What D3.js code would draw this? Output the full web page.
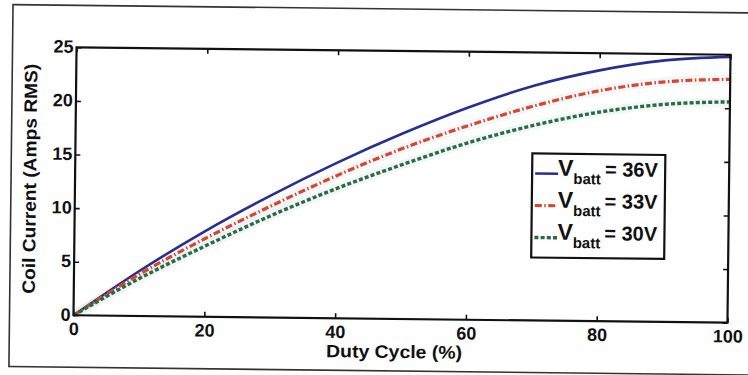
<!DOCTYPE html>
<html>
<head>
<meta charset="utf-8">
<script src="https://cdn.jsdelivr.net/npm/d3@7"></script>
<style>
  html, body { margin: 0; padding: 0; background: #fff; }
  svg { display: block; }
  text { font-family: "Liberation Sans", Arial, Helvetica, sans-serif; font-weight: bold; fill: #111; }
</style>
</head>
<body>
<svg id="chart" width="748" height="375"></svg>
<script>
// Duty cycle sweep (%) and the measured RMS coil current (A) for three battery voltages
const dutyCycle  = [0, 10, 20, 30, 40, 50, 60, 70, 80, 90, 100];
const current36V = [0, 4.2, 8.0, 11.4, 14.5, 17.3, 19.8, 21.9, 23.4, 24.4, 24.8];
const current33V = [0, 3.9, 7.3, 10.4, 13.3, 15.9, 18.1, 20.0, 21.5, 22.4, 22.7];
const current30V = [0, 3.5, 6.6, 9.5, 12.1, 14.4, 16.5, 18.2, 19.5, 20.3, 20.6];

const xTicks = [0, 20, 40, 60, 80, 100];
const yTicks = [0, 5, 10, 15, 20, 25];

const seriesNames = ["36V", "33V", "30V"];

const svg = d3.select("#chart");

// The printed figure sits slightly skewed on the page
const page = svg.append("g").attr("transform", "rotate(0.65, 402, 185)");

// Outer frame around the figure
page.append("rect")
  .attr("x", 11).attr("y", 9).attr("width", 760).attr("height", 362)
  .attr("fill", "none").attr("stroke", "#333").attr("stroke-width", 1.6);

const plotL = 75, plotR = 729, plotT = 51, plotB = 319;

const x = d3.scaleLinear().domain([0, 100]).range([plotL, plotR]);
const y = d3.scaleLinear().domain([0, 25]).range([plotB, plotT]);

const tickStyle = g => {
  g.select(".domain").remove();
  g.selectAll(".tick line").attr("stroke", "#111").attr("stroke-width", 1.6);
  g.selectAll(".tick text").attr("font-size", 18).attr("fill", "#111")
    .attr("font-family", "Liberation Sans, Arial, sans-serif").attr("font-weight", "bold");
};

page.append("g").attr("transform", `translate(0,${plotB})`)
  .call(d3.axisBottom(x).tickValues(xTicks).tickSize(-5).tickPadding(7))
  .call(tickStyle);
page.append("g").attr("transform", `translate(0,${plotT})`)
  .call(d3.axisTop(x).tickValues(xTicks).tickSize(-5).tickFormat(""))
  .call(tickStyle);
page.append("g").attr("transform", `translate(${plotL},0)`)
  .call(d3.axisLeft(y).tickValues(yTicks).tickSize(-5).tickPadding(3))
  .call(tickStyle)
  .call(g => g.selectAll(".tick text").attr("dy", "0.28em"));
page.append("g").attr("transform", `translate(${plotR},0)`)
  .call(d3.axisRight(y).tickValues(yTicks).tickSize(-5).tickFormat(""))
  .call(tickStyle);

// Curves
const line = d3.line().x(d => x(d[0])).y(d => y(d[1])).curve(d3.curveMonotoneX);
const toPts = vals => dutyCycle.map((d, i) => [d, vals[i]]);

const series = [
  { vals: current36V, color: "#27308f", width: 2.6, dash: null },
  { vals: current33V, color: "#d8462c", width: 3.2, dash: "7,2.5,1.5,2.5" },
  { vals: current30V, color: "#2b6b3c", width: 3.4, dash: "4,2.2" }
];

// faint printing haze around the dashed traces
series.slice(1).forEach(s => {
  page.append("path").attr("d", line(toPts(s.vals)))
    .attr("fill", "none").attr("stroke", "#d3e6f1").attr("stroke-width", 9)
    .attr("stroke-opacity", 0.35);
});

series.forEach(s => {
  page.append("path").attr("d", line(toPts(s.vals)))
    .attr("fill", "none").attr("stroke", s.color).attr("stroke-width", s.width)
    .attr("stroke-dasharray", s.dash);
});

// Axes box
page.append("rect")
  .attr("x", plotL).attr("y", plotT).attr("width", plotR - plotL).attr("height", plotB - plotT)
  .attr("fill", "none").attr("stroke", "#111").attr("stroke-width", 2.2);

// Axis titles
page.append("text").attr("x", 396).attr("y", 358).attr("text-anchor", "middle")
  .attr("font-size", 18).attr("textLength", 136).attr("lengthAdjust", "spacingAndGlyphs")
  .text("Duty Cycle (%)");
page.append("text").attr("transform", "translate(36,183) rotate(-90)").attr("text-anchor", "middle")
  .attr("font-size", 18).attr("textLength", 230).attr("lengthAdjust", "spacingAndGlyphs")
  .text("Coil Current (Amps RMS)");

// Legend
const legend = page.append("g");
legend.append("rect").attr("x", 532).attr("y", 152).attr("width", 133).attr("height", 104)
  .attr("fill", "#fff").attr("stroke", "#111").attr("stroke-width", 2.2);

const rowY = [172, 204, 236];
series.forEach((s, i) => {
  legend.append("line")
    .attr("x1", 535).attr("x2", 558).attr("y1", rowY[i]).attr("y2", rowY[i])
    .attr("stroke", s.color).attr("stroke-width", s.width).attr("stroke-dasharray", s.dash);
  const t = legend.append("text").attr("x", 558).attr("y", rowY[i] + 2);
  t.append("tspan").attr("font-size", 23).text("V");
  t.append("tspan").attr("font-size", 15).attr("dy", 8).text("batt");
  t.append("tspan").attr("font-size", 20).attr("dy", -8).attr("dx", 4).text("= " + seriesNames[i]);
});
</script>
</body>
</html>
